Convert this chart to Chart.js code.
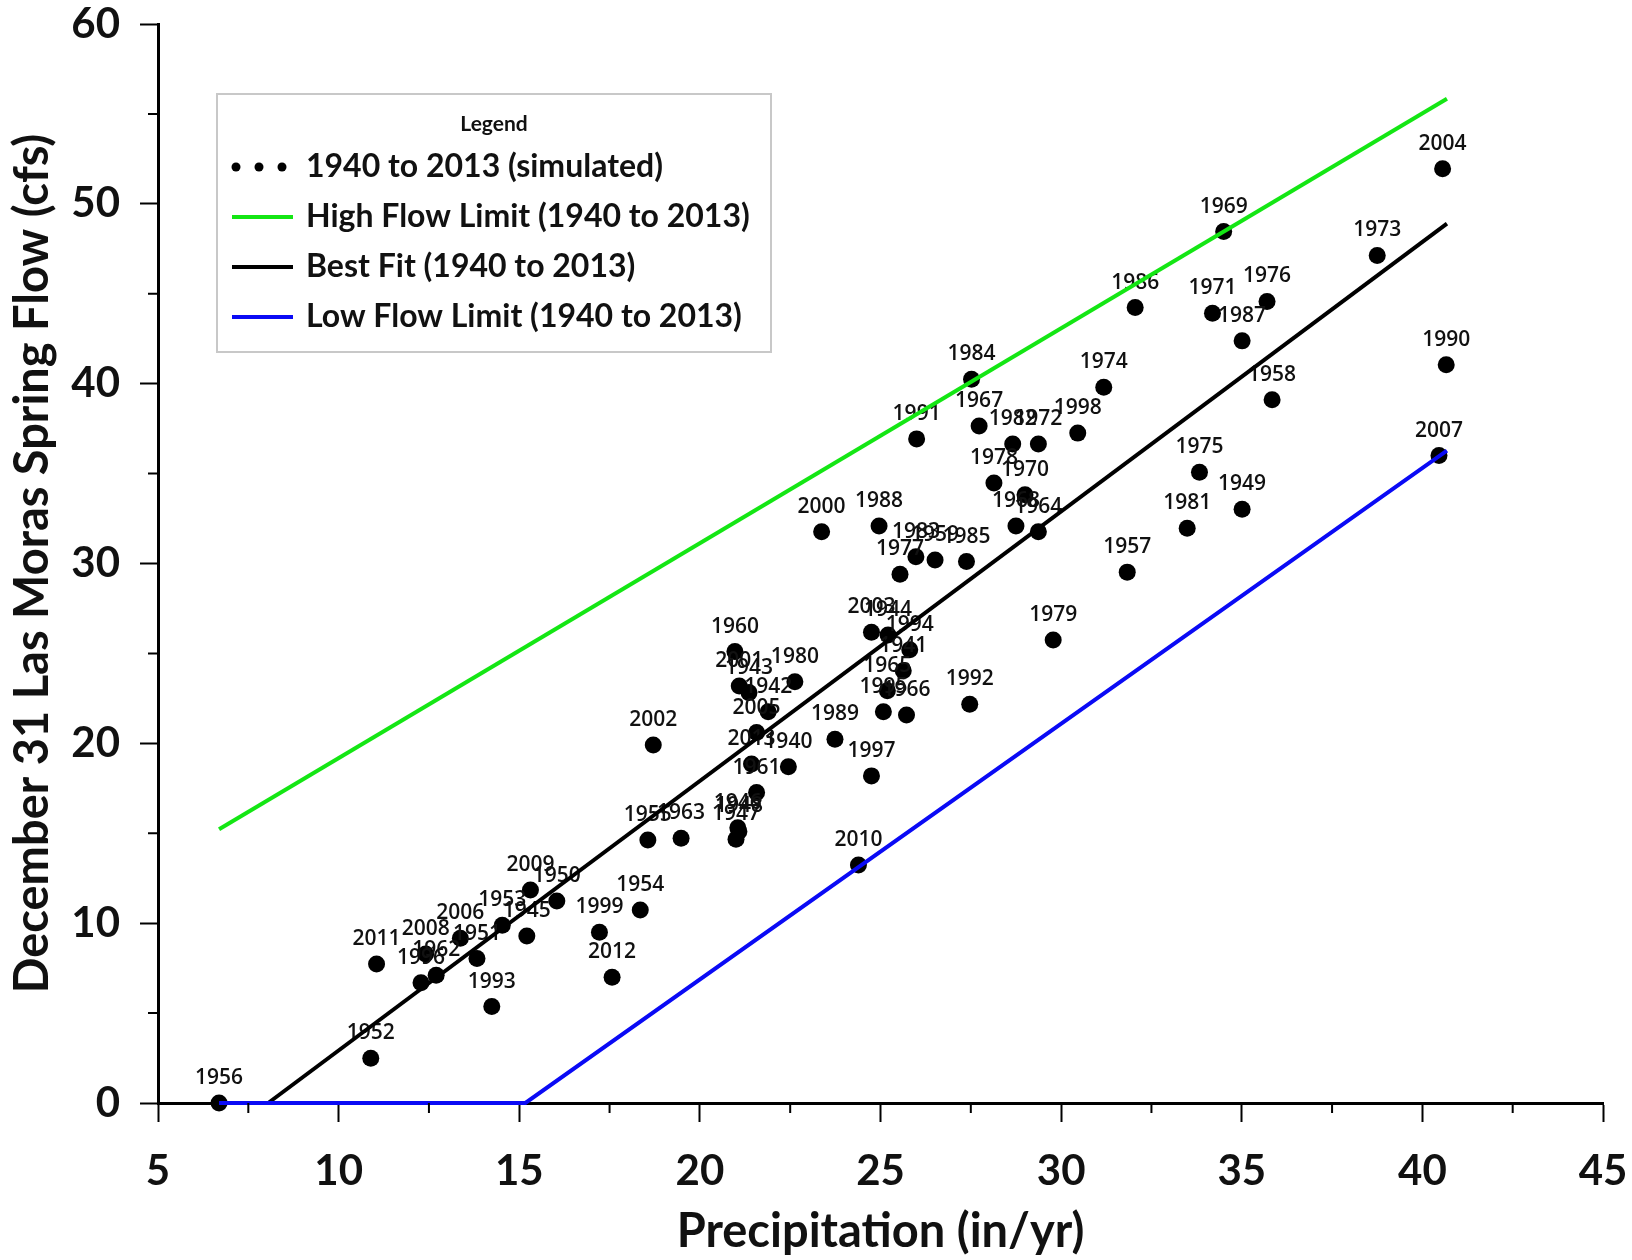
<!DOCTYPE html>
<html>
<head>
<meta charset="utf-8">
<title>Las Moras Spring Flow vs Precipitation</title>
<script src="https://cdn.jsdelivr.net/npm/chart.js@4.4.1/dist/chart.umd.min.js"></script>
<style>
    html, body { margin: 0; padding: 0; background: #fff; }
    #wrap { width: 1632px; height: 1260px; }
</style>
</head>
<body>
<div id="wrap"><canvas id="report" width="1632" height="1260"></canvas></div>
<script>
// simulated December 31 flow by year
const years = [1940, 1941, 1942, 1943, 1944, 1945, 1946, 1947, 1948, 1949,
    1950, 1951, 1952, 1953, 1954, 1955, 1956, 1957, 1958, 1959,
    1960, 1961, 1962, 1963, 1964, 1965, 1966, 1967, 1968, 1969,
    1970, 1971, 1972, 1973, 1974, 1975, 1976, 1977, 1978, 1979,
    1980, 1981, 1982, 1983, 1984, 1985, 1986, 1987, 1988, 1989,
    1990, 1991, 1992, 1993, 1994, 1995, 1996, 1997, 1998, 1999,
    2000, 2001, 2002, 2003, 2004, 2005, 2006, 2007, 2008, 2009,
    2010, 2011, 2012, 2013];
const precip = [22.45, 25.63, 21.89, 21.36, 25.21, 15.21, 21.05, 21.00, 21.08, 35.01,
    16.04, 13.83, 10.89, 14.53, 18.35, 18.56, 6.69, 31.83, 35.84, 26.51,
    20.97, 21.57, 12.70, 19.48, 29.37, 25.19, 25.72, 27.73, 28.75, 34.50,
    29.00, 34.19, 29.37, 38.75, 31.18, 33.83, 35.70, 25.54, 28.14, 29.78,
    22.63, 33.49, 28.66, 25.98, 27.52, 27.38, 32.05, 35.01, 24.96, 23.74,
    40.66, 26.00, 27.47, 14.24, 25.81, 25.08, 12.28, 24.75, 30.46, 17.22,
    23.37, 21.09, 18.71, 24.75, 40.56, 21.57, 13.37, 40.46, 12.41, 15.31,
    24.39, 11.05, 17.57, 21.43];
const flow = [18.70, 24.04, 21.76, 22.82, 26.03, 9.29, 15.30, 14.67, 15.10, 33.02,
    11.23, 8.03, 2.49, 9.88, 10.73, 14.63, 0.00, 29.52, 39.10, 30.20,
    25.10, 17.26, 7.10, 14.72, 31.77, 22.93, 21.58, 37.65, 32.09, 48.46,
    33.82, 43.92, 36.64, 47.13, 39.80, 35.08, 44.57, 29.40, 34.47, 25.75,
    23.43, 31.96, 36.64, 30.38, 40.25, 30.11, 44.23, 42.38, 32.09, 20.23,
    41.05, 36.93, 22.17, 5.36, 25.20, 21.76, 6.69, 18.19, 37.25, 9.49,
    31.77, 23.19, 19.91, 26.18, 51.95, 20.60, 9.16, 36.00, 8.29, 11.85,
    13.24, 7.73, 6.99, 18.85];

// limit and fit lines
const highX = [6.69, 40.68];
const highY = [15.22, 55.84];
const fitX = [8.05, 40.68];
const fitY = [0, 48.9];
const lowX = [6.69, 15.17, 40.68];
const lowY = [0, 0, 36.28];

const xTicks = [5, 10, 15, 20, 25, 30, 35, 40, 45];
const yTicks = [0, 10, 20, 30, 40, 50, 60];

const seriesNames = ['1940 to 2013 (simulated)', 'High Flow Limit (1940 to 2013)',
    'Best Fit (1940 to 2013)', 'Low Flow Limit (1940 to 2013)'];

const toPoints = (xs, ys) => xs.map((x, i) => ({ x: x, y: ys[i] }));

// year label above every dot, drawn before the lines
const yearLabels = {
    id: 'yearLabels',
    afterDatasetDraw(chart, args) {
        if (args.index !== 0) return;
        const ctx = chart.ctx;
        ctx.save();
        ctx.font = '600 21px "Open Sans"';
        ctx.fillStyle = '#111';
        ctx.textAlign = 'center';
        ctx.textBaseline = 'middle';
        args.meta.data.forEach((pt, i) => {
            ctx.fillText(String(years[i]), pt.x, pt.y - 25);
        });
        ctx.restore();
    }
};

// minor tick marks
const minorTicks = {
    id: 'minorTicks',
    afterDraw(chart) {
        const ctx = chart.ctx;
        const xs = chart.scales.x, ys = chart.scales.y;
        const area = chart.chartArea;
        ctx.save();
        ctx.strokeStyle = '#000';
        ctx.lineWidth = 2;
        ctx.beginPath();
        for (let v = 7.5; v < 45; v += 5) {
            const px = xs.getPixelForValue(v);
            ctx.moveTo(px, area.bottom);
            ctx.lineTo(px, area.bottom + 10);
        }
        for (let v = 5; v < 60; v += 10) {
            const py = ys.getPixelForValue(v);
            ctx.moveTo(area.left - 10, py);
            ctx.lineTo(area.left, py);
        }
        ctx.stroke();
        ctx.restore();
    }
};

// boxed legend inside the plot
const boxLegend = {
    id: 'boxLegend',
    afterDraw(chart) {
        const ctx = chart.ctx;
        const ds = chart.data.datasets;
        const left = 217, top = 94, w = 554, h = 258;
        ctx.save();
        ctx.fillStyle = '#fff';
        ctx.fillRect(left, top, w, h);
        ctx.strokeStyle = '#c8c8c8';
        ctx.lineWidth = 2;
        ctx.strokeRect(left, top, w, h);
        ctx.fillStyle = '#111';
        ctx.textAlign = 'center';
        ctx.textBaseline = 'middle';
        ctx.font = 'bold 21px Lato';
        ctx.fillText('Legend', left + 277, top + 30);
        ctx.textAlign = 'left';
        ctx.font = 'bold 32px Lato';
        ds.forEach((d, i) => {
            const y = top + 73 + i * 50;
            if (i === 0) {
                ctx.fillStyle = '#000';
                [236, 259, 282].forEach(cx => {
                    ctx.beginPath();
                    ctx.arc(cx, y, 4.5, 0, Math.PI * 2);
                    ctx.fill();
                });
            } else {
                ctx.strokeStyle = d.borderColor;
                ctx.lineWidth = 4;
                ctx.beginPath();
                ctx.moveTo(232, y);
                ctx.lineTo(293, y);
                ctx.stroke();
            }
            ctx.fillStyle = '#111';
            ctx.fillText(d.label, 306, y);
        });
        ctx.restore();
    }
};

const ctx = document.getElementById('report').getContext('2d');
let myChart = new Chart(ctx, {
    type: 'scatter',
    data: {
        datasets: [{
            label: seriesNames[0],
            data: toPoints(precip, flow),
            pointRadius: 8.5,
            pointBackgroundColor: '#000',
            pointBorderColor: '#000',
            pointBorderWidth: 0,
            order: 10
        }, {
            label: seriesNames[1],
            type: 'line',
            data: toPoints(highX, highY),
            borderColor: '#14e614',
            borderWidth: 4,
            pointRadius: 0,
            order: 3
        }, {
            label: seriesNames[2],
            type: 'line',
            data: toPoints(fitX, fitY),
            borderColor: '#000',
            borderWidth: 4,
            pointRadius: 0,
            order: 2
        }, {
            label: seriesNames[3],
            type: 'line',
            data: toPoints(lowX, lowY),
            borderColor: '#0a0af5',
            borderWidth: 4,
            pointRadius: 0,
            order: 1
        }]
    },
    options: {
        responsive: false,
        animation: false,
        clip: false,
        layout: { padding: { top: 24, right: 29, left: 0, bottom: 0 } },
        plugins: {
            legend: { display: false },
            tooltip: { enabled: false }
        },
        scales: {
            x: {
                type: 'linear',
                min: 5,
                max: 45,
                afterFit: scale => {
                    scale.height = 157;
                    scale.paddingLeft = 0;
                    scale.paddingRight = 0;
                },
                afterBuildTicks: scale => { scale.ticks = xTicks.map(v => ({ value: v })); },
                grid: { drawOnChartArea: false, drawTicks: true, tickLength: 19, tickColor: '#000', tickWidth: 2 },
                border: { color: '#000', width: 3 },
                ticks: { color: '#111', padding: 24, font: { family: 'Lato', size: 42, weight: 'bold' } },
                title: {
                    display: true,
                    text: 'Precipitation (in/yr)',
                    color: '#111',
                    padding: { top: 0, bottom: 0 },
                    font: { family: 'Lato', size: 47, weight: 'bold' }
                }
            },
            y: {
                type: 'linear',
                min: 0,
                max: 60,
                afterFit: scale => {
                    scale.width = 158;
                    scale.paddingTop = 0;
                    scale.paddingBottom = 0;
                },
                afterBuildTicks: scale => { scale.ticks = yTicks.map(v => ({ value: v })); },
                grid: { drawOnChartArea: false, drawTicks: true, tickLength: 18, tickColor: '#000', tickWidth: 2 },
                border: { color: '#000', width: 3 },
                ticks: { color: '#111', padding: 20, font: { family: 'Lato', size: 42, weight: 'bold' } },
                title: {
                    display: true,
                    text: 'December 31 Las Moras Spring Flow (cfs)',
                    color: '#111',
                    padding: { top: 5, bottom: 0 },
                    font: { family: 'Lato', size: 47, weight: 'bold' }
                }
            }
        }
    },
    plugins: [yearLabels, minorTicks, boxLegend]
});
</script>
</body>
</html>
